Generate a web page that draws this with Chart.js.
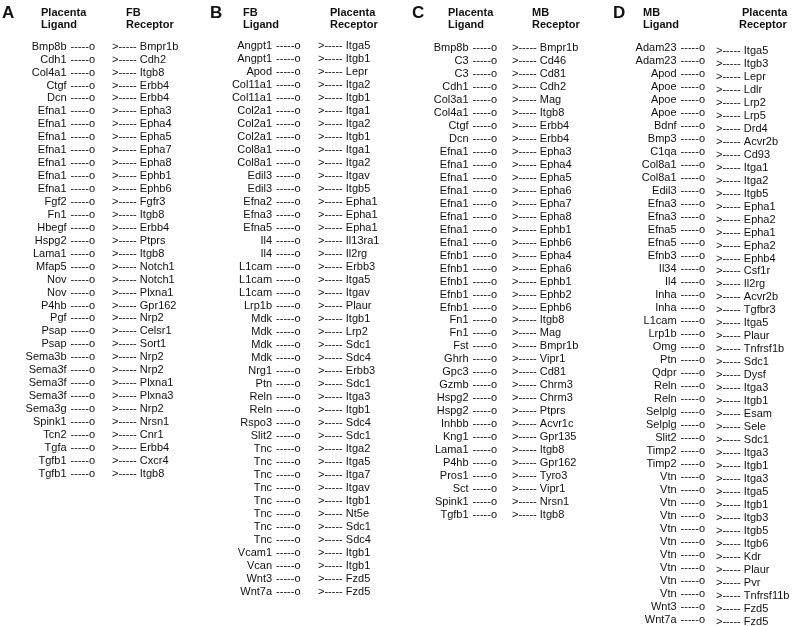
<!DOCTYPE html>
<html>
<head>
<meta charset="utf-8">
<script src="https://cdn.jsdelivr.net/npm/chart.js@4.4.0/dist/chart.umd.min.js"></script>
<style>
  html, body { margin: 0; padding: 0; background: #fff; }
  #wrap { position: relative; width: 800px; height: 626px; background: #fff; }
  .panel { position: absolute; top: 0; width: 200px; height: 626px; }
</style>
</head>
<body>
<div id="wrap">
  <div class="panel" style="left:0px"><canvas id="panel-a" width="200" height="626"></canvas></div>
  <div class="panel" style="left:200px"><canvas id="panel-b" width="200" height="626"></canvas></div>
  <div class="panel" style="left:400px"><canvas id="panel-c" width="200" height="626"></canvas></div>
  <div class="panel" style="left:600px"><canvas id="panel-d" width="200" height="626"></canvas></div>
</div>
<script>
// ═══ Ligand -> receptor pairs, one list per panel ═══

// A: Placenta ligand -> FB receptor
const aLigands = ["Bmp8b", "Cdh1", "Col4a1", "Ctgf", "Dcn", "Efna1", "Efna1", "Efna1", "Efna1", "Efna1", "Efna1", "Efna1",
  "Fgf2", "Fn1", "Hbegf", "Hspg2", "Lama1", "Mfap5", "Nov", "Nov", "P4hb", "Pgf", "Psap", "Psap",
  "Sema3b", "Sema3f", "Sema3f", "Sema3f", "Sema3g", "Spink1", "Tcn2", "Tgfa", "Tgfb1", "Tgfb1"];
const aReceptors = ["Bmpr1b", "Cdh2", "Itgb8", "Erbb4", "Erbb4", "Epha3", "Epha4", "Epha5", "Epha7", "Epha8", "Ephb1", "Ephb6",
  "Fgfr3", "Itgb8", "Erbb4", "Ptprs", "Itgb8", "Notch1", "Notch1", "Plxna1", "Gpr162", "Nrp2", "Celsr1", "Sort1",
  "Nrp2", "Nrp2", "Plxna1", "Plxna3", "Nrp2", "Nrsn1", "Cnr1", "Erbb4", "Cxcr4", "Itgb8"];

// B: FB ligand -> Placenta receptor
const bLigands = ["Angpt1", "Angpt1", "Apod", "Col11a1", "Col11a1", "Col2a1", "Col2a1", "Col2a1", "Col8a1", "Col8a1",
  "Edil3", "Edil3", "Efna2", "Efna3", "Efna5", "Il4", "Il4", "L1cam", "L1cam", "L1cam", "Lrp1b",
  "Mdk", "Mdk", "Mdk", "Mdk", "Nrg1", "Ptn", "Reln", "Reln", "Rspo3", "Slit2",
  "Tnc", "Tnc", "Tnc", "Tnc", "Tnc", "Tnc", "Tnc", "Tnc", "Vcam1", "Vcan", "Wnt3", "Wnt7a"];
const bReceptors = ["Itga5", "Itgb1", "Lepr", "Itga2", "Itgb1", "Itga1", "Itga2", "Itgb1", "Itga1", "Itga2",
  "Itgav", "Itgb5", "Epha1", "Epha1", "Epha1", "Il13ra1", "Il2rg", "Erbb3", "Itga5", "Itgav", "Plaur",
  "Itgb1", "Lrp2", "Sdc1", "Sdc4", "Erbb3", "Sdc1", "Itga3", "Itgb1", "Sdc4", "Sdc1",
  "Itga2", "Itga5", "Itga7", "Itgav", "Itgb1", "Nt5e", "Sdc1", "Sdc4", "Itgb1", "Itgb1", "Fzd5", "Fzd5"];

// C: Placenta ligand -> MB receptor
const cLigands = ["Bmp8b", "C3", "C3", "Cdh1", "Col3a1", "Col4a1", "Ctgf", "Dcn",
  "Efna1", "Efna1", "Efna1", "Efna1", "Efna1", "Efna1", "Efna1", "Efna1",
  "Efnb1", "Efnb1", "Efnb1", "Efnb1", "Efnb1", "Fn1", "Fn1", "Fst", "Ghrh", "Gpc3", "Gzmb",
  "Hspg2", "Hspg2", "Inhbb", "Kng1", "Lama1", "P4hb", "Pros1", "Sct", "Spink1", "Tgfb1"];
const cReceptors = ["Bmpr1b", "Cd46", "Cd81", "Cdh2", "Mag", "Itgb8", "Erbb4", "Erbb4",
  "Epha3", "Epha4", "Epha5", "Epha6", "Epha7", "Epha8", "Ephb1", "Ephb6",
  "Epha4", "Epha6", "Ephb1", "Ephb2", "Ephb6", "Itgb8", "Mag", "Bmpr1b", "Vipr1", "Cd81", "Chrm3",
  "Chrm3", "Ptprs", "Acvr1c", "Gpr135", "Itgb8", "Gpr162", "Tyro3", "Vipr1", "Nrsn1", "Itgb8"];

// D: MB ligand -> Placenta receptor
const dLigands = ["Adam23", "Adam23", "Apod", "Apoe", "Apoe", "Apoe", "Bdnf", "Bmp3", "C1qa", "Col8a1", "Col8a1",
  "Edil3", "Efna3", "Efna3", "Efna5", "Efna5", "Efnb3", "Il34", "Il4", "Inha", "Inha", "L1cam", "Lrp1b",
  "Omg", "Ptn", "Qdpr", "Reln", "Reln", "Selplg", "Selplg", "Slit2", "Timp2", "Timp2",
  "Vtn", "Vtn", "Vtn", "Vtn", "Vtn", "Vtn", "Vtn", "Vtn", "Vtn", "Vtn", "Wnt3", "Wnt7a"];
const dReceptors = ["Itga5", "Itgb3", "Lepr", "Ldlr", "Lrp2", "Lrp5", "Drd4", "Acvr2b", "Cd93", "Itga1", "Itga2",
  "Itgb5", "Epha1", "Epha2", "Epha1", "Epha2", "Ephb4", "Csf1r", "Il2rg", "Acvr2b", "Tgfbr3", "Itga5", "Plaur",
  "Tnfrsf1b", "Sdc1", "Dysf", "Itga3", "Itgb1", "Esam", "Sele", "Sdc1", "Itga3", "Itgb1",
  "Itga3", "Itga5", "Itgb1", "Itgb3", "Itgb5", "Itgb6", "Kdr", "Plaur", "Pvr", "Tnfrsf11b", "Fzd5", "Fzd5"];

// ═══ Drawing ═══
const FONT = "'Liberation Sans', Arial, Helvetica, sans-serif";
const INK = "#111";
const H = 626;

// writes ligand/receptor names at the points placed by the scales
const pairText = {
  id: "pairText",
  afterDatasetsDraw(chart, args, opts) {
    const ctx = chart.ctx;
    const xs = chart.scales.x;
    ctx.save();
    ctx.fillStyle = INK;

    // panel letter + column headers
    ctx.textBaseline = "alphabetic";
    ctx.textAlign = "left";
    ctx.font = `bold 17px ${FONT}`;
    ctx.fillText(opts.letter, xs.getPixelForValue(opts.letterX), 17.5);
    ctx.font = `bold 11px ${FONT}`;
    ctx.fillText(opts.headL[0], xs.getPixelForValue(opts.headLX), 15.5);
    ctx.fillText(opts.headL[1], xs.getPixelForValue(opts.headLX), 28);
    ctx.fillText(opts.headR[0], xs.getPixelForValue(opts.headRX[0]), 15.5);
    ctx.fillText(opts.headR[1], xs.getPixelForValue(opts.headRX[1]), 28);

    ctx.font = `11px ${FONT}`;
    ctx.textBaseline = "middle";
    const conn = "-----o";
    const connW = ctx.measureText(conn).width;

    chart.getDatasetMeta(0).data.forEach((pt, i) => {
      ctx.textAlign = "right";
      ctx.fillText(conn, pt.x, pt.y);
      ctx.fillText(opts.ligands[i], pt.x - connW - 4, pt.y);
    });
    chart.getDatasetMeta(1).data.forEach((pt, i) => {
      ctx.textAlign = "left";
      ctx.fillText(">----- " + opts.receptors[i], pt.x, pt.y);
    });
    ctx.restore();
  },
};

function drawPanel(id, letter, headL, headR, ligands, receptors, lay) {
  return new Chart(document.getElementById(id), {
    type: "scatter",
    data: {
      datasets: [
        { label: "ligand", data: ligands.map((_, i) => ({ x: lay.connEnd, y: i })) },
        { label: "receptor", data: receptors.map((_, i) => ({ x: lay.arrowX, y: i + lay.recShift })) },
      ],
    },
    options: {
      responsive: false,
      animation: false,
      events: [],
      layout: { padding: 0 },
      elements: { point: { radius: 0, hoverRadius: 0 } },
      plugins: {
        legend: { display: false },
        tooltip: { enabled: false },
        pairText: { letter, headL, headR, ligands, receptors, letterX: lay.letterX, headLX: lay.headLX, headRX: lay.headRX },
      },
      scales: {
        x: { type: "linear", display: false, min: 0, max: 200 },
        y: { type: "linear", display: false, reverse: true, min: -lay.top / lay.step, max: (H - lay.top) / lay.step },
      },
    },
    plugins: [pairText],
  });
}

drawPanel("panel-a", "A", ["Placenta", "Ligand"], ["FB", "Receptor"], aLigands, aReceptors,
  { top: 46.7, step: 12.94, connEnd: 95, arrowX: 112, recShift: 0, letterX: 2, headLX: 41, headRX: [126, 126] });
drawPanel("panel-b", "B", ["FB", "Ligand"], ["Placenta", "Receptor"], bLigands, bReceptors,
  { top: 46, step: 12.99, connEnd: 100.5, arrowX: 118, recShift: 0, letterX: 10, headLX: 43, headRX: [130, 130] });
drawPanel("panel-c", "C", ["Placenta", "Ligand"], ["MB", "Receptor"], cLigands, cReceptors,
  { top: 48.3, step: 12.96, connEnd: 97, arrowX: 112, recShift: 0, letterX: 12, headLX: 48, headRX: [132, 132] });
drawPanel("panel-d", "D", ["MB", "Ligand"], ["Placenta", "Receptor"], dLigands, dReceptors,
  { top: 48.3, step: 12.99, connEnd: 105, arrowX: 116, recShift: 0.18, letterX: 13, headLX: 43, headRX: [142, 139] });
</script>
</body>
</html>
